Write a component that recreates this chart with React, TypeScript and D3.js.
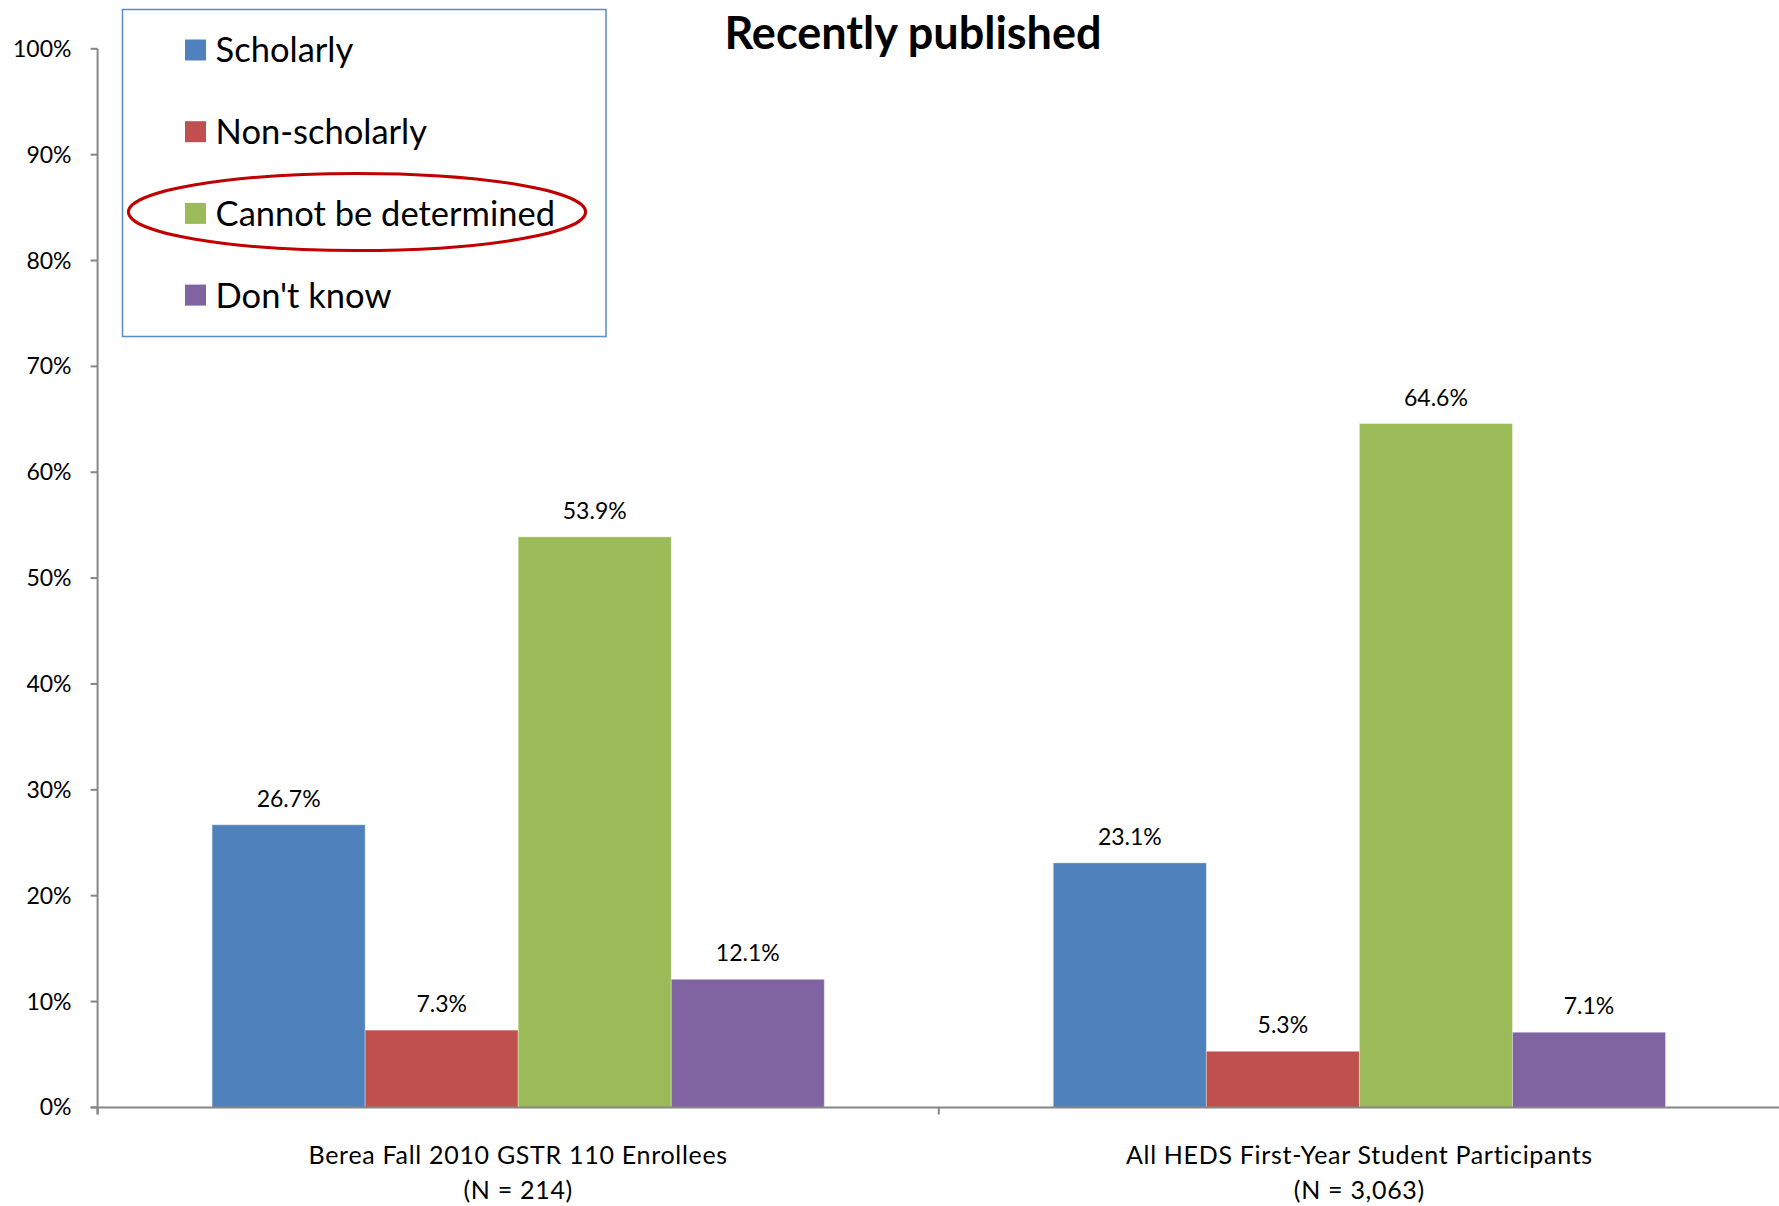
import React from "react";
import * as d3 from "d3";

const categories = ["Berea Fall 2010 GSTR 110 Enrollees", "All HEDS First-Year Student Participants"];
const categorySubLabels = ["(N = 214)", "(N = 3,063)"];
const seriesNames = ["Scholarly", "Non-scholarly", "Cannot be determined", "Don't know"];
const seriesColors = ["#4F81BD", "#C0504D", "#9BBB59", "#8064A2"];
const scholarly = [26.7, 23.1];
const nonScholarly = [7.3, 5.3];
const cannotDetermine = [53.9, 64.6];
const dontKnow = [12.1, 7.1];
const yTicks = [0, 10, 20, 30, 40, 50, 60, 70, 80, 90, 100];
const title = "Recently published";

const W = 1779;
const H = 1206;
const FONT = "Lato, 'Open Sans', sans-serif";

export default function App() {
  const series = [scholarly, nonScholarly, cannotDetermine, dontKnow];
  const left = 97.6;
  const right = W + 1;
  const top = 48.8;
  const bottom = 1107.4;

  const x0 = d3.scaleBand<number>().domain(d3.range(categories.length)).range([left, right]).paddingInner(0).paddingOuter(0);
  const groupPad = 114.5;
  const x1 = d3
    .scaleBand<number>()
    .domain(d3.range(seriesNames.length))
    .range([groupPad, x0.bandwidth() - groupPad]);
  const y = d3.scaleLinear().domain([0, 100]).range([bottom, top]);

  const axisColor = "#868686";

  return (
    <svg width={W} height={H} style={{ position: "absolute", left: 0, top: 0, background: "#fff" }} fontFamily={FONT}>
      {/* bars */}
      {categories.map((c, ci) => (
        <g key={c} transform={`translate(${x0(ci)},0)`}>
          {series.map((s, si) => (
            <g key={si}>
              <rect
                x={x1(si)}
                y={y(s[ci])}
                width={x1.bandwidth()}
                height={y(0) - y(s[ci])}
                fill={seriesColors[si]}
                stroke="rgba(255,255,255,0.35)"
                strokeWidth={1}
              />
              <text
                x={(x1(si) as number) + x1.bandwidth() / 2}
                y={y(s[ci]) - 18}
                textAnchor="middle"
                fontSize={23}
                fill="#000"
              >
                {s[ci].toFixed(1)}%
              </text>
            </g>
          ))}
        </g>
      ))}

      {/* y axis */}
      <line x1={left} x2={left} y1={top} y2={bottom + 7} stroke={axisColor} strokeWidth={2} />
      {yTicks.map((t) => (
        <g key={t}>
          <line x1={left - 7} x2={left} y1={y(t)} y2={y(t)} stroke={axisColor} strokeWidth={2} />
          <text x={71.5} y={y(t)} dy="0.35em" textAnchor="end" fontSize={23} fill="#000">
            {t}%
          </text>
        </g>
      ))}

      {/* x axis */}
      <line x1={left - 7} x2={right} y1={bottom} y2={bottom} stroke={axisColor} strokeWidth={2} />
      {d3.range(categories.length + 1).map((i) => {
        const xx = i < categories.length ? (x0(i) as number) : right;
        return <line key={i} x1={xx} x2={xx} y1={bottom} y2={bottom + 7} stroke={axisColor} strokeWidth={2} />;
      })}
      {categories.map((c, ci) => {
        const cx = (x0(ci) as number) + x0.bandwidth() / 2;
        return (
          <g key={c}>
            <text x={cx} y={1164} textAnchor="middle" fontSize={25} letterSpacing={0.7} fill="#000">
              {c}
            </text>
            <text x={cx} y={1199} textAnchor="middle" fontSize={25} letterSpacing={0.7} fill="#000">
              {categorySubLabels[ci]}
            </text>
          </g>
        );
      })}

      {/* title */}
      <text x={913} y={49} textAnchor="middle" fontSize={45} fontWeight="bold" fill="#000">
        {title}
      </text>

      {/* legend */}
      <rect x={122.5} y={9.5} width={483.5} height={327} fill="#fff" stroke="#5B8AC8" strokeWidth={1.5} />
      {seriesNames.map((n, i) => {
        const cy = 50 + i * 81.7;
        return (
          <g key={n}>
            <rect x={185} y={cy - 10.5} width={21} height={21} fill={seriesColors[i]} />
            <text x={215.6} y={cy} dy="0.36em" fontSize={34.5} fill="#000">
              {n}
            </text>
          </g>
        );
      })}
      <ellipse cx={357} cy={212} rx={228.6} ry={38.6} fill="none" stroke="#C00000" strokeWidth={3} />
    </svg>
  );
}
